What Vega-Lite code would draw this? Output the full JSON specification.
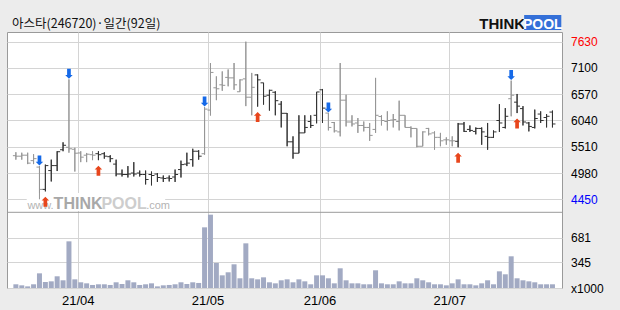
{
  "$schema": "https://vega.github.io/schema/vega-lite/v6.json",
  "autosize": {"type": "none"},
  "width": 555,
  "height": 256,
  "padding": {"left": 7, "top": 32, "right": 58, "bottom": 22},
  "background": "#ececec",
  "config": {"view": {"fill": "white", "stroke": "#9a9a9a", "strokeWidth": 1}},
  "data": {"values": [
    {"i":0,"o":5330,"h":5400,"l":5250,"c":5320,"v":50,"t":"g","s":""},
    {"i":1,"o":5320,"h":5390,"l":5250,"c":5340,"v":36,"t":"g","s":""},
    {"i":2,"o":5340,"h":5390,"l":5160,"c":5180,"v":22,"t":"g","s":""},
    {"i":3,"o":5230,"h":5360,"l":5160,"c":5270,"v":50,"t":"g","s":""},
    {"i":4,"o":5100,"h":5120,"l":4450,"c":4650,"v":198,"t":"g","s":"b"},
    {"i":5,"o":4650,"h":5150,"l":4610,"c":5130,"v":81,"t":"d","s":"r"},
    {"i":6,"o":5030,"h":5250,"l":4810,"c":5130,"v":90,"t":"d","s":""},
    {"i":7,"o":5130,"h":5420,"l":5020,"c":5410,"v":158,"t":"d","s":""},
    {"i":8,"o":5450,"h":5600,"l":5420,"c":5540,"v":104,"t":"d","s":""},
    {"i":9,"o":5500,"h":6870,"l":5390,"c":5470,"v":630,"t":"g","s":"b"},
    {"i":10,"o":5460,"h":5490,"l":5010,"c":5380,"v":117,"t":"g","s":""},
    {"i":11,"o":5385,"h":5420,"l":5200,"c":5300,"v":77,"t":"g","s":""},
    {"i":12,"o":5340,"h":5385,"l":5200,"c":5360,"v":63,"t":"g","s":""},
    {"i":13,"o":5350,"h":5420,"l":5240,"c":5340,"v":41,"t":"g","s":""},
    {"i":14,"o":5370,"h":5420,"l":5240,"c":5350,"v":50,"t":"d","s":"r"},
    {"i":15,"o":5370,"h":5400,"l":5270,"c":5320,"v":50,"t":"d","s":""},
    {"i":16,"o":5310,"h":5340,"l":5200,"c":5270,"v":41,"t":"d","s":""},
    {"i":17,"o":5160,"h":5250,"l":4915,"c":4960,"v":77,"t":"d","s":""},
    {"i":18,"o":4960,"h":5050,"l":4910,"c":4950,"v":54,"t":"d","s":""},
    {"i":19,"o":4950,"h":5120,"l":4890,"c":4960,"v":104,"t":"d","s":""},
    {"i":20,"o":4980,"h":5200,"l":4910,"c":4960,"v":77,"t":"d","s":""},
    {"i":21,"o":4980,"h":5030,"l":4910,"c":4950,"v":41,"t":"d","s":""},
    {"i":22,"o":4950,"h":5030,"l":4750,"c":4850,"v":50,"t":"d","s":""},
    {"i":23,"o":4950,"h":5010,"l":4730,"c":4930,"v":63,"t":"d","s":""},
    {"i":24,"o":4960,"h":4980,"l":4800,"c":4890,"v":22,"t":"d","s":""},
    {"i":25,"o":4880,"h":4930,"l":4800,"c":4870,"v":36,"t":"d","s":""},
    {"i":26,"o":4880,"h":4930,"l":4810,"c":4870,"v":41,"t":"d","s":""},
    {"i":27,"o":4900,"h":5050,"l":4800,"c":4950,"v":50,"t":"d","s":""},
    {"i":28,"o":5050,"h":5230,"l":4890,"c":5150,"v":77,"t":"d","s":""},
    {"i":29,"o":5160,"h":5390,"l":5120,"c":5180,"v":54,"t":"d","s":""},
    {"i":30,"o":5250,"h":5470,"l":5110,"c":5420,"v":77,"t":"d","s":""},
    {"i":31,"o":5420,"h":5440,"l":5250,"c":5320,"v":68,"t":"d","s":""},
    {"i":32,"o":5370,"h":6310,"l":5350,"c":6270,"v":819,"t":"g","s":"b"},
    {"i":33,"o":6250,"h":7200,"l":6140,"c":7010,"v":990,"t":"g","s":""},
    {"i":34,"o":6700,"h":6930,"l":6450,"c":6680,"v":338,"t":"g","s":""},
    {"i":35,"o":6760,"h":7030,"l":6640,"c":6750,"v":171,"t":"g","s":""},
    {"i":36,"o":6910,"h":7070,"l":6730,"c":6900,"v":212,"t":"g","s":""},
    {"i":37,"o":6900,"h":7200,"l":6660,"c":6760,"v":320,"t":"g","s":""},
    {"i":38,"o":6620,"h":6870,"l":6620,"c":6860,"v":131,"t":"g","s":""},
    {"i":39,"o":6880,"h":7630,"l":6330,"c":6510,"v":603,"t":"g","s":""},
    {"i":40,"o":6510,"h":7000,"l":6145,"c":6710,"v":131,"t":"g","s":""},
    {"i":41,"o":6960,"h":6970,"l":6320,"c":6860,"v":117,"t":"d","s":"r"},
    {"i":42,"o":6800,"h":6800,"l":6360,"c":6530,"v":144,"t":"d","s":""},
    {"i":43,"o":6550,"h":6660,"l":6240,"c":6650,"v":77,"t":"d","s":""},
    {"i":44,"o":6610,"h":6630,"l":6145,"c":6440,"v":63,"t":"d","s":""},
    {"i":45,"o":6370,"h":6430,"l":5900,"c":6185,"v":104,"t":"d","s":""},
    {"i":46,"o":6185,"h":6190,"l":5520,"c":5610,"v":117,"t":"d","s":""},
    {"i":47,"o":5610,"h":5720,"l":5270,"c":5380,"v":77,"t":"d","s":""},
    {"i":48,"o":5380,"h":6145,"l":5380,"c":5790,"v":117,"t":"d","s":""},
    {"i":49,"o":5790,"h":6145,"l":5790,"c":5900,"v":90,"t":"d","s":""},
    {"i":50,"o":6020,"h":6145,"l":5890,"c":5940,"v":50,"t":"d","s":""},
    {"i":51,"o":6145,"h":6616,"l":5983,"c":6616,"v":171,"t":"d","s":""},
    {"i":52,"o":6660,"h":6676,"l":5990,"c":6290,"v":171,"t":"d","s":""},
    {"i":53,"o":6190,"h":6190,"l":5840,"c":5900,"v":131,"t":"g","s":"b"},
    {"i":54,"o":6000,"h":6010,"l":5800,"c":5830,"v":63,"t":"g","s":""},
    {"i":55,"o":5810,"h":7200,"l":5720,"c":6450,"v":266,"t":"g","s":""},
    {"i":56,"o":6450,"h":6560,"l":5920,"c":6010,"v":104,"t":"g","s":""},
    {"i":57,"o":6010,"h":6145,"l":5920,"c":5970,"v":63,"t":"g","s":""},
    {"i":58,"o":5990,"h":6090,"l":5790,"c":5940,"v":63,"t":"g","s":""},
    {"i":59,"o":5940,"h":6020,"l":5820,"c":5900,"v":50,"t":"g","s":""},
    {"i":60,"o":5900,"h":5990,"l":5630,"c":5740,"v":50,"t":"g","s":""},
    {"i":61,"o":5860,"h":6900,"l":5790,"c":6145,"v":239,"t":"g","s":""},
    {"i":62,"o":6120,"h":6145,"l":5940,"c":6040,"v":63,"t":"g","s":""},
    {"i":63,"o":6020,"h":6225,"l":5840,"c":6040,"v":50,"t":"g","s":""},
    {"i":64,"o":6050,"h":6170,"l":5900,"c":6060,"v":50,"t":"g","s":""},
    {"i":65,"o":6020,"h":6440,"l":5840,"c":6145,"v":90,"t":"g","s":""},
    {"i":66,"o":6145,"h":6145,"l":5900,"c":5900,"v":63,"t":"g","s":""},
    {"i":67,"o":5900,"h":5920,"l":5700,"c":5880,"v":63,"t":"g","s":""},
    {"i":68,"o":5880,"h":5880,"l":5500,"c":5520,"v":131,"t":"g","s":""},
    {"i":69,"o":5520,"h":5820,"l":5520,"c":5810,"v":104,"t":"g","s":""},
    {"i":70,"o":5880,"h":5890,"l":5740,"c":5770,"v":77,"t":"g","s":""},
    {"i":71,"o":5790,"h":5820,"l":5450,"c":5700,"v":50,"t":"g","s":""},
    {"i":72,"o":5700,"h":5790,"l":5520,"c":5630,"v":50,"t":"g","s":""},
    {"i":73,"o":5650,"h":5700,"l":5550,"c":5650,"v":36,"t":"g","s":""},
    {"i":74,"o":5630,"h":5720,"l":5520,"c":5630,"v":63,"t":"g","s":""},
    {"i":75,"o":5620,"h":5990,"l":5500,"c":5970,"v":117,"t":"d","s":"r"},
    {"i":76,"o":5970,"h":6010,"l":5810,"c":5820,"v":50,"t":"d","s":""},
    {"i":77,"o":5860,"h":5940,"l":5810,"c":5840,"v":50,"t":"d","s":""},
    {"i":78,"o":5820,"h":5900,"l":5760,"c":5880,"v":36,"t":"d","s":""},
    {"i":79,"o":5880,"h":5900,"l":5550,"c":5810,"v":63,"t":"d","s":""},
    {"i":80,"o":5720,"h":5990,"l":5450,"c":5700,"v":104,"t":"d","s":""},
    {"i":81,"o":5700,"h":5840,"l":5690,"c":5810,"v":50,"t":"d","s":""},
    {"i":82,"o":6040,"h":6370,"l":5810,"c":5990,"v":225,"t":"d","s":""},
    {"i":83,"o":5900,"h":6290,"l":5880,"c":6125,"v":185,"t":"d","s":""},
    {"i":84,"o":6480,"h":6845,"l":6125,"c":6550,"v":428,"t":"g","s":"b"},
    {"i":85,"o":6410,"h":6575,"l":6190,"c":6330,"v":131,"t":"d","s":"r"},
    {"i":86,"o":6280,"h":6330,"l":5940,"c":6010,"v":104,"t":"d","s":""},
    {"i":87,"o":5990,"h":6010,"l":5820,"c":5920,"v":90,"t":"d","s":""},
    {"i":88,"o":5900,"h":6260,"l":5880,"c":6080,"v":77,"t":"d","s":""},
    {"i":89,"o":6170,"h":6225,"l":5990,"c":6040,"v":50,"t":"d","s":""},
    {"i":90,"o":6100,"h":6170,"l":5900,"c":6125,"v":50,"t":"d","s":""},
    {"i":91,"o":6210,"h":6240,"l":5900,"c":5970,"v":50,"t":"d","s":""}
  ]},
  "layer": [
    {
      "layer": [
        {
          "mark": {"type": "rule", "strokeWidth": 1},
          "encoding": {
            "x": {"field": "i", "type": "quantitative", "title": null, "scale": {"domain": [-0.658, 91.77], "nice": false, "zero": false},
              "axis": {"orient": "bottom", "values": [10.5, 32.5, 51.5, 73.5], "labelExpr": "datum.value == 10.5 ? '21/04' : datum.value == 32.5 ? '21/05' : datum.value == 51.5 ? '21/06' : '21/07'", "grid": true, "gridColor": "#d4d4d4", "gridWidth": 1, "domain": false, "ticks": false, "tickSize": 0, "labelPadding": 6, "labelFont": "Liberation Sans", "labelFontSize": 13, "labelColor": "#000000", "labelBaseline": "top", "labelFlush": false, "labelOverlap": false, "title": null}},
            "y": {"field": "l", "type": "quantitative", "title": null, "scale": {"domain": [2660.1, 7825.7], "nice": false, "zero": false},
              "axis": {"orient": "right", "values": [4450, 4980, 5510, 6040, 6570, 7100, 7630], "format": "d", "grid": true, "gridColor": "#d4d4d4", "gridWidth": 1, "domain": false, "ticks": false, "tickSize": 0, "labelPadding": 8.5, "labelFont": "Liberation Sans", "labelFontSize": 12, "labelAlign": "left", "labelBaseline": "middle", "labelOverlap": false, "labelColor": {"condition": [{"test": "datum.value == 7630", "value": "#ff0000"}, {"test": "datum.value == 4450", "value": "#0000ff"}], "value": "#000000"}, "title": null}},
            "y2": {"field": "h"},
            "color": {"field": "t", "type": "nominal", "scale": {"domain": ["d", "g"], "range": ["#333333", "#969696"]}, "legend": null}
          }
        },
        {
          "data": {"values": [{}]},
          "mark": {"type": "rect", "color": "#ffffff"},
          "encoding": {
            "x": {"datum": 1.84, "type": "quantitative", "title": null},
            "x2": {"datum": 25.32},
            "y": {"datum": 4577, "type": "quantitative", "title": null},
            "y2": {"datum": 4214}
          }
        },
        {
          "data": {"values": [{}]},
          "mark": {"type": "text", "text": "www.", "align": "left", "baseline": "alphabetic", "font": "Liberation Sans", "fontSize": 11, "color": "#b3b3b3"},
          "encoding": {
            "x": {"datum": 1.95, "type": "quantitative", "title": null},
            "y": {"datum": 4254, "type": "quantitative", "title": null}
          }
        },
        {
          "data": {"values": [{}]},
          "mark": {"type": "text", "text": "THINK", "align": "left", "baseline": "alphabetic", "font": "Liberation Sans", "fontWeight": "bold", "fontSize": 16, "color": "#a8a8a8"},
          "encoding": {
            "x": {"datum": 6.4, "type": "quantitative", "title": null},
            "y": {"datum": 4254, "type": "quantitative", "title": null}
          }
        },
        {
          "data": {"values": [{}]},
          "mark": {"type": "text", "text": "POOL", "align": "left", "baseline": "alphabetic", "font": "Liberation Sans", "fontWeight": "bold", "fontSize": 16, "color": "#cdcdcd"},
          "encoding": {
            "x": {"datum": 14.5, "type": "quantitative", "title": null},
            "y": {"datum": 4254, "type": "quantitative", "title": null}
          }
        },
        {
          "data": {"values": [{}]},
          "mark": {"type": "text", "text": ".com", "align": "left", "baseline": "alphabetic", "font": "Liberation Sans", "fontSize": 11, "color": "#b3b3b3"},
          "encoding": {
            "x": {"datum": 22.1, "type": "quantitative", "title": null},
            "y": {"datum": 4254, "type": "quantitative", "title": null}
          }
        },
        {
          "mark": {"type": "rule", "strokeWidth": 1},
          "encoding": {
            "x": {"field": "i", "type": "quantitative", "title": null},
            "y": {"field": "l", "type": "quantitative", "title": null},
            "y2": {"field": "h"},
            "color": {"field": "t", "type": "nominal", "legend": null}
          }
        },
        {
          "mark": {"type": "tick", "orient": "horizontal", "size": 3, "thickness": 1, "xOffset": -1.5, "opacity": 1},
          "encoding": {
            "x": {"field": "i", "type": "quantitative", "title": null},
            "y": {"field": "o", "type": "quantitative", "title": null},
            "color": {"field": "t", "type": "nominal", "legend": null}
          }
        },
        {
          "mark": {"type": "tick", "orient": "horizontal", "size": 3, "thickness": 1, "xOffset": 1.5, "opacity": 1},
          "encoding": {
            "x": {"field": "i", "type": "quantitative", "title": null},
            "y": {"field": "c", "type": "quantitative", "title": null},
            "color": {"field": "t", "type": "nominal", "legend": null}
          }
        },
        {
          "transform": [{"filter": "datum.s == 'b'"}],
          "mark": {"type": "point", "shape": "M-0.37,-1L0.37,-1L0.37,0.25L0.75,0.25L0,1L-0.75,0.25L-0.37,0.25Z", "filled": true, "size": 100, "opacity": 1, "strokeWidth": 0, "yOffset": -5.5, "color": "#1569e8"},
          "encoding": {
            "x": {"field": "i", "type": "quantitative", "title": null},
            "y": {"field": "h", "type": "quantitative", "title": null}
          }
        },
        {
          "transform": [{"filter": "datum.s == 'r'"}],
          "mark": {"type": "point", "shape": "M-0.37,1L0.37,1L0.37,-0.25L0.75,-0.25L0,-1L-0.75,-0.25L-0.37,-0.25Z", "filled": true, "size": 100, "opacity": 1, "strokeWidth": 0, "yOffset": 10.5, "color": "#e8461c"},
          "encoding": {
            "x": {"field": "i", "type": "quantitative", "title": null},
            "y": {"field": "l", "type": "quantitative", "title": null}
          }
        },
        {
          "data": {"values": [{}]},
          "mark": {"type": "text", "text": "아스타(246720)·일간(92일)", "align": "left", "baseline": "alphabetic", "font": "Noto Sans CJK KR", "fontSize": 12.5, "color": "#111111"},
          "encoding": {
            "x": {"datum": -0.658, "type": "quantitative", "title": null},
            "y": {"datum": 7906, "type": "quantitative", "title": null}
          }
        },
        {
          "data": {"values": [{}]},
          "mark": {"type": "rect", "color": "#3470d8"},
          "encoding": {
            "x": {"datum": 86.2, "type": "quantitative", "title": null},
            "x2": {"datum": 92.5},
            "y": {"datum": 8168.7, "type": "quantitative", "title": null},
            "y2": {"datum": 7866.1}
          }
        },
        {
          "data": {"values": [{}]},
          "mark": {"type": "text", "text": "THINK", "align": "left", "baseline": "alphabetic", "font": "Liberation Sans", "fontWeight": "bold", "fontSize": 15, "color": "#111111"},
          "encoding": {
            "x": {"datum": 78.6, "type": "quantitative", "title": null},
            "y": {"datum": 7886, "type": "quantitative", "title": null}
          }
        },
        {
          "data": {"values": [{}]},
          "mark": {"type": "text", "text": "POOL", "align": "center", "baseline": "alphabetic", "font": "Liberation Sans", "fontWeight": "bold", "fontSize": 14, "color": "#ffffff"},
          "encoding": {
            "x": {"datum": 89.35, "type": "quantitative", "title": null},
            "y": {"datum": 7886, "type": "quantitative", "title": null}
          }
        },
        {
          "data": {"values": [{}]},
          "mark": {"type": "rule", "color": "#9a9a9a", "strokeWidth": 1},
          "encoding": {
            "y": {"datum": 4187.6, "type": "quantitative", "title": null}
          }
        }
      ]
    },
    {
      "mark": {"type": "bar", "size": 5, "color": "#a2aac3"},
      "encoding": {
        "x": {"field": "i", "type": "quantitative", "title": null},
        "y": {"field": "v", "type": "quantitative", "title": null, "scale": {"domain": [0, 3456], "nice": false},
          "axis": {"orient": "right", "values": [0, 345, 681], "labelExpr": "datum.value == 0 ? 'x1000' : datum.label", "grid": true, "gridColor": "#d4d4d4", "gridWidth": 1, "domain": false, "ticks": false, "tickSize": 0, "labelPadding": 8.5, "labelFont": "Liberation Sans", "labelFontSize": 12, "labelAlign": "left", "labelBaseline": "middle", "labelOverlap": false, "labelColor": "#000000", "title": null}}
      }
    }
  ],
  "resolve": {"scale": {"y": "independent"}, "axis": {"y": "independent"}}
}
